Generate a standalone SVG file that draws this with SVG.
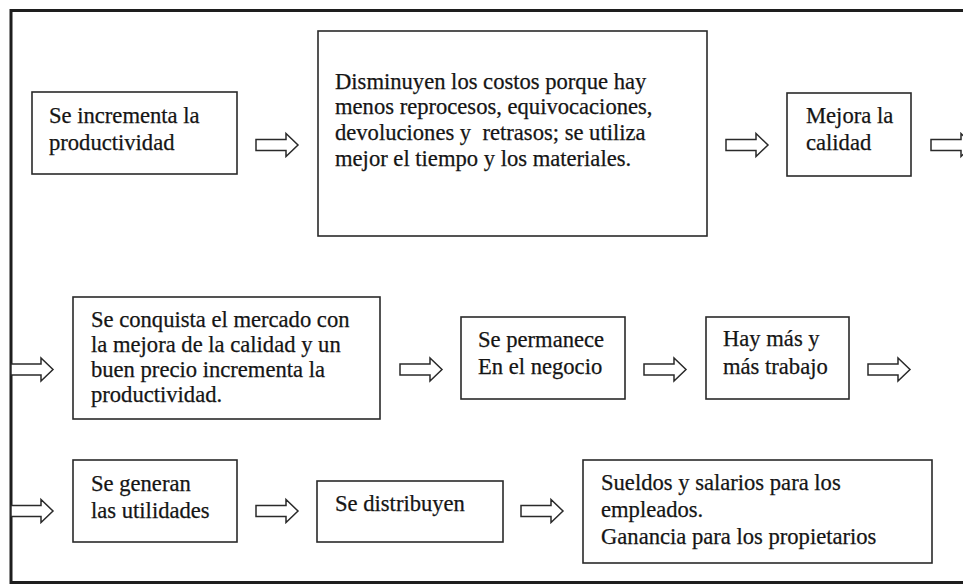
<svg xmlns="http://www.w3.org/2000/svg" xmlns:xlink="http://www.w3.org/1999/xlink" width="963" height="584" viewBox="0 0 963 584">
<style>
.frame{fill:none;stroke:#1e1e1e;stroke-width:3}
.box{fill:#fff;stroke:#2a2a2a;stroke-width:1.6}
.t{font-family:"Liberation Serif","Times New Roman",serif;font-size:22.6px;fill:#151515;stroke:#151515;stroke-width:0.25}
.arr{fill:#fff;stroke:#2a2a2a;stroke-width:1.5;stroke-linejoin:miter}
</style>
<defs>
<path id="arrow" class="arr" d="M0,-5.5 H30 V-11.5 L42,0 L30,11.5 V5.5 H0 Z"/>
</defs>
<rect width="963" height="584" fill="#fff"/>
<rect class="frame" x="11" y="10.5" width="1000" height="572"/>
<g id="connectors">
<use xlink:href="#arrow" transform="translate(256,145)"/>
<use xlink:href="#arrow" transform="translate(726,145)"/>
<use xlink:href="#arrow" transform="translate(931,145)"/>
<use xlink:href="#arrow" transform="translate(11,369.5)"/>
<use xlink:href="#arrow" transform="translate(400,369.5)"/>
<use xlink:href="#arrow" transform="translate(644,369.5)"/>
<use xlink:href="#arrow" transform="translate(868,369.5)"/>
<use xlink:href="#arrow" transform="translate(11,511)"/>
<use xlink:href="#arrow" transform="translate(256,511)"/>
<use xlink:href="#arrow" transform="translate(521,511)"/>
</g>
<g id="n1">
<rect class="box" x="32" y="92" width="205" height="82"/>
<text class="t" x="49" y="123">Se incrementa la</text>
<text class="t" x="49" y="150">productividad</text>
</g>
<g id="n2">
<rect class="box" x="318" y="31" width="389" height="205"/>
<text class="t" x="335" y="89">Disminuyen los costos porque hay</text>
<text class="t" x="335" y="114">menos reprocesos, equivocaciones,</text>
<text class="t" x="335" y="140" xml:space="preserve">devoluciones y  retrasos; se utiliza</text>
<text class="t" x="335" y="166">mejor el tiempo y los materiales.</text>
</g>
<g id="n3">
<rect class="box" x="787" y="93" width="124" height="83"/>
<text class="t" x="806" y="123">Mejora la</text>
<text class="t" x="806" y="150">calidad</text>
</g>
<g id="n4">
<rect class="box" x="73" y="297" width="307" height="122"/>
<text class="t" x="91" y="327">Se conquista el mercado con</text>
<text class="t" x="91" y="352">la mejora de la calidad y un</text>
<text class="t" x="91" y="377">buen precio incrementa la</text>
<text class="t" x="91" y="402">productividad.</text>
</g>
<g id="n5">
<rect class="box" x="461" y="317" width="164" height="82"/>
<text class="t" x="478" y="347">Se permanece</text>
<text class="t" x="478" y="374">En el negocio</text>
</g>
<g id="n6">
<rect class="box" x="706" y="317" width="143" height="82"/>
<text class="t" x="723" y="346">Hay más y</text>
<text class="t" x="723" y="374">más trabajo</text>
</g>
<g id="n7">
<rect class="box" x="73" y="460" width="164" height="82"/>
<text class="t" x="91" y="491">Se generan</text>
<text class="t" x="91" y="518">las utilidades</text>
</g>
<g id="n8">
<rect class="box" x="317" y="481" width="186" height="61"/>
<text class="t" x="335" y="511">Se distribuyen</text>
</g>
<g id="n9">
<rect class="box" x="583" y="460" width="349" height="103"/>
<text class="t" x="601" y="490">Sueldos y salarios para los</text>
<text class="t" x="601" y="517">empleados.</text>
<text class="t" x="601" y="544">Ganancia para los propietarios</text>
</g>
</svg>
